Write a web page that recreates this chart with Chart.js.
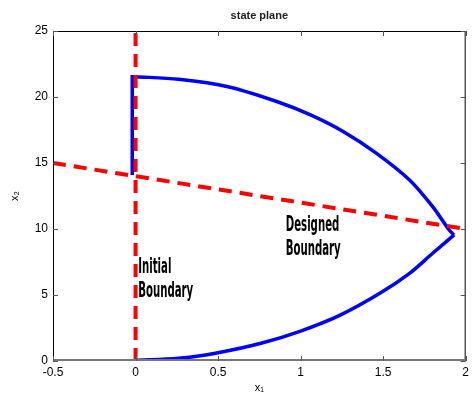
<!DOCTYPE html>
<html>
  <head>
    <style>
      body { margin: 0; background: #fff; }
    </style>
  </head>
  <body>
    <script src="https://cdn.jsdelivr.net/npm/chart.js@4.4.0/dist/chart.umd.min.js"></script>
    <canvas id="myChart" width="473" height="396"></canvas>
    <script>
      // trajectory (side segment, upper arc, lower arc)
      var sideX = [-0.02, -0.02, 0.0];
      var sideY = [14.1, 21.54, 21.54];
      var upperX = [0.0, 0.26, 0.56, 0.86, 1.06, 1.26, 1.46, 1.66, 1.8, 1.9, 1.93];
      var upperY = [21.54, 21.34, 20.78, 19.64, 18.64, 17.37, 15.73, 13.71, 11.69, 9.92, 9.55];
      var lowerX = [1.93, 1.8, 1.66, 1.48, 1.24, 1.0, 0.76, 0.5, 0.26, 0.0];
      var lowerY = [9.55, 8.16, 6.64, 5.13, 3.48, 2.27, 1.34, 0.63, 0.2, 0.05];
      // boundaries
      var initX = [0, 0];
      var initY = [0, 25];
      var designX = [-0.5, 2];
      var designY = [15, 10];
      // tick values
      var xTicks = [-0.5, 0, 0.5, 1, 1.5, 2];
      var yTicks = [0, 5, 10, 15, 20, 25];
      // text labels: [x, y, line1, line2]
      var notes = [
        [0.016, 6.67, "Initial", "Boundary"],
        [0.91, 9.85, "Designed", "Boundary"]
      ];

      function pts(xs, ys) {
        var out = [];
        for (var i = 0; i < xs.length; i++) out.push({ x: xs[i], y: ys[i] });
        return out;
      }

      var boxPlugin = {
        id: "box",
        afterDraw: function (chart) {
          var ctx = chart.ctx;
          var a = chart.chartArea;
          var sx = chart.scales.x, sy = chart.scales.y;
          ctx.save();
          ctx.strokeStyle = "#000";
          ctx.lineWidth = 1;
          ctx.strokeRect(a.left + 0.5, a.top + 0.5, a.right - a.left - 1, a.bottom - a.top - 1);
          ctx.strokeStyle = "#777";
          ctx.lineWidth = 2;
          ctx.beginPath();
          ctx.moveTo(a.left, a.bottom - 1); ctx.lineTo(a.right, a.bottom - 1);
          ctx.stroke();
          ctx.lineWidth = 1;
          ctx.strokeStyle = "#555";
          ctx.beginPath();
          xTicks.forEach(function (v) {
            var px = Math.round(sx.getPixelForValue(v)) + 0.5;
            ctx.moveTo(px, a.bottom); ctx.lineTo(px, a.bottom - 5);
            ctx.moveTo(px, a.top); ctx.lineTo(px, a.top + 5);
          });
          yTicks.forEach(function (v) {
            var py = Math.round(sy.getPixelForValue(v)) + 0.5;
            ctx.moveTo(a.left, py); ctx.lineTo(a.left + 5, py);
            ctx.moveTo(a.right, py); ctx.lineTo(a.right - 5, py);
          });
          ctx.stroke();

          // title
          ctx.fillStyle = "#222";
          ctx.font = "bold 11px 'Liberation Sans', Arial, sans-serif";
          ctx.textAlign = "center";
          ctx.textBaseline = "middle";
          ctx.fillText("state plane", (a.left + a.right) / 2, 16);

          // annotations
          ctx.fillStyle = "#000";
          ctx.textAlign = "left";
          ctx.textBaseline = "alphabetic";
          ctx.font = "bold 21px 'Liberation Sans Narrow', 'DejaVu Sans Condensed', sans-serif";
          var k = 55 / ctx.measureText("Boundary").width;
          notes.forEach(function (n) {
            var px = sx.getPixelForValue(n[0]);
            var py = sy.getPixelForValue(n[1]);
            [n[2], n[3]].forEach(function (t, i) {
              ctx.save();
              ctx.translate(px, py + i * 24);
              ctx.scale(k, 1);
              ctx.fillText(t, 0, 0);
              ctx.restore();
            });
          });
          ctx.restore();
        }
      };

      var fontFam = "'Liberation Sans', Arial, sans-serif";
      var blue = { showLine: true, borderColor: "#0000ff", borderWidth: 3.5, pointRadius: 0, tension: 0.3 };
      var red = { showLine: true, borderColor: "#ff0000", borderWidth: 4, borderDash: [13, 8], pointRadius: 0 };

      var ctx = document.getElementById("myChart").getContext("2d");
      var myChart = new Chart(ctx, {
        type: "scatter",
        data: {
          datasets: [
            Object.assign({ data: pts(initX, initY) }, red),
            Object.assign({ data: pts(designX, designY) }, red),
            Object.assign({ data: pts(sideX, sideY) }, blue, { tension: 0 }),
            Object.assign({ data: pts(upperX, upperY) }, blue),
            Object.assign({ data: pts(lowerX, lowerY) }, blue)
          ]
        },
        options: {
          responsive: false,
          animation: false,
          layout: { autoPadding: false, padding: { top: 31, right: 3, left: 0, bottom: 0 } },
          plugins: {
            legend: { display: false },
            tooltip: { enabled: false }
          },
          scales: {
            x: {
              type: "linear",
              min: -0.5,
              max: 2,
              afterFit: function (s) { s.height = 35; },
              afterBuildTicks: function (s) { s.ticks = xTicks.map(function (v) { return { value: v }; }); },
              grid: { display: false, drawTicks: false },
              border: { display: false },
              ticks: { color: "#000", padding: 4, font: { size: 12, family: fontFam }, callback: function (v) { return String(v); } },
              title: { display: true, text: "x\u2081", color: "#000", padding: { top: 0, bottom: 1 }, font: { size: 11, family: fontFam } }
            },
            y: {
              type: "linear",
              min: 0,
              max: 25,
              afterFit: function (s) { s.width = 53; },
              afterBuildTicks: function (s) { s.ticks = yTicks.map(function (v) { return { value: v }; }); },
              grid: { display: false, drawTicks: false },
              border: { display: false },
              ticks: { color: "#000", padding: 5, font: { size: 12, family: fontFam }, callback: function (v) { return String(v); } },
              title: { display: true, text: "x\u2082", color: "#000", padding: { top: 8, bottom: 0 }, font: { size: 11, family: fontFam } }
            }
          }
        },
        plugins: [boxPlugin]
      });
    </script>
  </body>
</html>
